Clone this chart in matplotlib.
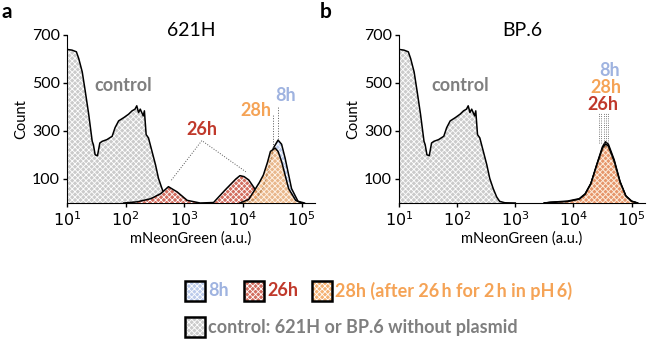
import numpy as np
import matplotlib.pyplot as plt
from matplotlib.patches import Rectangle

plt.rcParams['font.family'] = ['Lato', 'DejaVu Sans']
plt.rcParams['hatch.linewidth'] = 0.6
plt.rcParams['hatch.color'] = 'white'
HATCH = 'xxxxxx'

# histogram outlines: log10(mNeonGreen) and count
ctrl_x = [1.0, 1.085, 1.16, 1.2, 1.26, 1.31, 1.37, 1.43, 1.45, 1.48, 1.52, 1.56, 1.6, 1.68,
          1.77, 1.82, 1.88, 1.97, 2.05, 2.11, 2.16, 2.19, 2.22, 2.25, 2.3, 2.32, 2.35, 2.39,
          2.45, 2.51, 2.56, 2.62, 2.68, 2.73, 2.82, 3.0]
ctrl_y = [640, 637, 630, 602, 546, 468, 370, 257, 243, 201, 197, 250, 257, 264,
          278, 314, 342, 356, 370, 384, 391, 405, 377, 391, 363, 384, 285, 271,
          215, 159, 103, 60, 25, 7, 1, 0]

a26_x = [1.97, 2.2, 2.43, 2.6, 2.73, 2.88, 3.05, 3.27, 3.5, 3.56, 3.7, 3.78, 3.88, 3.95,
         4.02, 4.1, 4.24, 4.41, 4.5]
a26_y = [0, 5, 18, 39, 68, 46, 11, 0, 2, 18, 55, 75, 100, 114, 110, 96, 46, 7, 0]

a8_x = [4.0, 4.24, 4.35, 4.41, 4.47, 4.52, 4.6, 4.66, 4.72, 4.83, 4.94, 5.05]
a8_y = [0, 18, 70, 117, 175, 229, 262, 245, 187, 60, 7, 0]

a28_x = [3.95, 4.1, 4.18, 4.28, 4.35, 4.42, 4.47, 4.55, 4.6, 4.66, 4.78, 4.9, 5.0]
a28_y = [0, 15, 46, 85, 117, 170, 215, 229, 215, 173, 60, 11, 0]

b8_x = [3.5, 3.6, 3.9, 4.1, 4.2, 4.3, 4.4, 4.5, 4.55, 4.6, 4.7, 4.8, 4.9, 5.0, 5.1]
b8_y = [0, 2, 5, 15, 35, 80, 160, 235, 255, 245, 180, 90, 30, 8, 0]
b26_x = [3.5, 3.6, 3.9, 4.1, 4.2, 4.3, 4.4, 4.5, 4.55, 4.6, 4.7, 4.8, 4.9, 5.0, 5.1]
b26_y = [0, 3, 8, 18, 38, 82, 155, 225, 240, 232, 170, 85, 28, 6, 0]
b28_x = [3.5, 3.6, 3.9, 4.1, 4.2, 4.3, 4.4, 4.5, 4.55, 4.6, 4.7, 4.8, 4.9, 5.0, 5.1]
b28_y = [0, 2, 6, 16, 36, 80, 158, 230, 246, 238, 175, 88, 29, 7, 0]

c_ctrl, t_ctrl = '#cbcbcb', '#7f7f7f'
c_8, t_8 = '#bccbeb', '#9fb3e0'
c_26, t_26 = '#d26e60', '#c0392b'
c_28, t_28 = '#f4b274', '#f5a356'

W, H = 649, 341
fig = plt.figure(figsize=(W / 100, H / 100), dpi=100)


def fx(px):
    return px / W


def fy(py):
    return 1 - py / H


def hist(ax, xs, ys, face, alpha=1.0, z=2):
    x = 10 ** np.array(xs)
    ax.fill_between(x, 0, ys, facecolor=face, edgecolor='white', hatch=HATCH,
                    linewidth=0, alpha=alpha, zorder=z)
    ax.plot(x, ys, color='black', lw=1.1, zorder=z + 0.5)


def style(ax, title):
    ax.set_xscale('log')
    ax.set_xlim(10, 10 ** 5.23)
    ax.set_ylim(0, 700)
    ax.set_yticks([100, 300, 500, 700])
    ax.set_xticks([1e1, 1e2, 1e3, 1e4, 1e5])
    ax.set_xticklabels(['$10^1$', '$10^2$', '$10^3$', '$10^4$', '$10^5$'])
    ax.minorticks_off()
    ax.spines['top'].set_visible(False)
    ax.spines['right'].set_visible(False)
    ax.tick_params(labelsize=11.5, length=3, width=1, pad=2)
    ax.set_xlabel('mNeonGreen (a.u.)', fontsize=10.5, labelpad=2)
    ax.set_ylabel('Count', fontsize=10.5, labelpad=3)
    ax.set_title(title, fontsize=14, pad=2, y=0.98)
    ax.patch.set_alpha(0)


ax1 = fig.add_axes([fx(67), fy(203), fx(248), fy(35) - fy(203)])
hist(ax1, ctrl_x, ctrl_y, c_ctrl)
hist(ax1, a26_x, a26_y, c_26, z=3)
hist(ax1, a8_x, a8_y, c_8, z=4)
hist(ax1, a28_x, a28_y, c_28, alpha=0.8, z=5)
style(ax1, '621H')
fs = 13
ax1.text(10 ** 1.95, 490, 'control', color=t_ctrl, fontsize=fs, fontweight='bold', ha='center', va='center')
ax1.text(10 ** 3.3, 305, '26h', color=t_26, fontsize=fs, fontweight='bold', ha='center', va='center')
ax1.plot(10 ** np.array([2.78, 3.3, 4.05]), [95, 260, 130], color='#555555', lw=0.7, ls=':', zorder=6)
ax1.text(10 ** 4.22, 385, '28h', color=t_28, fontsize=fs, fontweight='bold', ha='center', va='center')
ax1.text(10 ** 4.72, 447, '8h', color=t_8, fontsize=fs, fontweight='bold', ha='center', va='center')
for lx, top, bot in [(4.51, 365, 235), (4.6, 400, 265)]:
    ax1.plot([10 ** lx] * 2, [bot, top], color='#555555', lw=0.7, ls=':', zorder=6)

ax2 = fig.add_axes([fx(399), fy(203), fx(246), fy(35) - fy(203)])
hist(ax2, ctrl_x, ctrl_y, c_ctrl)
hist(ax2, b8_x, b8_y, c_8, z=3)
hist(ax2, b26_x, b26_y, c_26, z=4)
hist(ax2, b28_x, b28_y, c_28, alpha=0.6, z=5)
style(ax2, 'BP.6')
ax2.text(10 ** 2.06, 490, 'control', color=t_ctrl, fontsize=fs, fontweight='bold', ha='center', va='center')
ax2.text(10 ** 4.62, 553, '8h', color=t_8, fontsize=fs, fontweight='bold', ha='center', va='center')
ax2.text(10 ** 4.55, 482, '28h', color=t_28, fontsize=fs, fontweight='bold', ha='center', va='center')
ax2.text(10 ** 4.5, 412, '26h', color=t_26, fontsize=fs, fontweight='bold', ha='center', va='center')
for lx in [4.44, 4.48, 4.52, 4.56, 4.6]:
    ax2.plot([10 ** lx] * 2, [250, 375], color='#555555', lw=0.6, ls=':', zorder=6)

fig.text(fx(1), fy(12), 'a', fontsize=15, fontweight='bold', va='center')
fig.text(fx(320), fy(12), 'b', fontsize=15, fontweight='bold', va='center')

# legend built from patches in figure coordinates
legend_rows = [
    [(185, 291, c_8, '8h', t_8), (244, 291, c_26, '26h', t_26),
     (312, 291, c_28, '28h (after 26\u2009h for 2\u2009h in pH\u20096)', t_28)],
    [(185, 327, c_ctrl, 'control: 621H or BP.6 without plasmid', t_ctrl)],
]
for row in legend_rows:
    for px, py, face, label, tc in row:
        box = (fx(px), fy(py + 10)), fx(20), fy(py - 10) - fy(py + 10)
        fig.patches.append(Rectangle(*box, transform=fig.transFigure, facecolor=face,
                                     edgecolor='white', hatch=HATCH, lw=0))
        fig.patches.append(Rectangle(*box, transform=fig.transFigure, facecolor='none',
                                     edgecolor='black', lw=1.8))
        fig.text(fx(px + 23), fy(py), label, color=tc, fontsize=13, fontweight='bold', va='center')

fig.savefig('out.png', dpi=100)
